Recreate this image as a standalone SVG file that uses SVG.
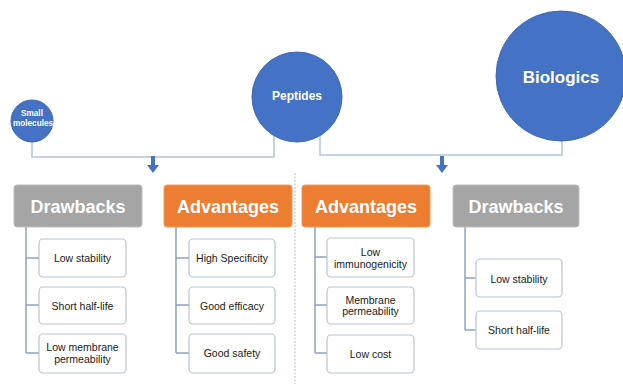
<svg xmlns="http://www.w3.org/2000/svg" width="623" height="384" viewBox="0 0 623 384">
<style>
.circ{fill:#4472c4;stroke:#3f68b4;stroke-width:1}
.ctxt{fill:#fff;font-family:"Liberation Sans",Arial,sans-serif;font-weight:bold;text-anchor:middle;dominant-baseline:central}
.link{fill:none;stroke:#b4c3d8;stroke-width:1.5}
.tree{fill:none;stroke:#8fa3bf;stroke-width:1.5}
.arrow{fill:#4472c4}
.hdrG{fill:#a5a5a5;stroke:#bdbdbd;stroke-width:1}
.hdrO{fill:#ed7d31;stroke:#f29a5c;stroke-width:1}
.htxt{fill:#fff;font-family:"Liberation Sans",Arial,sans-serif;font-weight:bold;font-size:18px;text-anchor:middle;dominant-baseline:central}
.box{fill:#fff;stroke:#b7c4d6;stroke-width:1.2}
.btxt{fill:#1a1a1a;font-family:"Liberation Sans",Arial,sans-serif;font-size:10.5px;text-anchor:middle;dominant-baseline:central}
</style>
<rect width="623" height="384" fill="#fff"/>
<g id="connectors">
<path class="link" d="M32 142 V157 H274 V136"/>
<path class="link" d="M320 134 V155 H562 V141"/>
<path class="arrow" d="M151 156 h4 v9 h4 l-6 8 l-6 -8 h4 z"/>
<path class="arrow" d="M440 156 h4 v9 h4 l-6 8 l-6 -8 h4 z"/>
<line x1="295" y1="173" x2="295" y2="384" stroke="#c3cad4" stroke-width="1.2" stroke-dasharray="2,1.5"/>
<path class="tree" d="M26 227 V353 M26 258 H39 M26 305 H39 M26 353 H39"/>
<path class="tree" d="M176 227 V353 M176 258 H189 M176 305 H189 M176 353 H189"/>
<path class="tree" d="M315 227 V353 M315 257 H327 M315 305 H327 M315 353 H327"/>
<path class="tree" d="M465 227 V330 M465 278 H476 M465 330 H476"/>
</g>
<g id="small-molecules">
<circle class="circ" cx="32" cy="121" r="21"/>
<text class="ctxt" x="32" y="113" font-size="8.2">Small</text>
<text class="ctxt" x="33" y="123.5" font-size="8.2">molecules</text>
</g>
<g id="peptides">
<circle class="circ" cx="297" cy="97" r="45"/>
<text class="ctxt" x="297" y="96" font-size="12">Peptides</text>
</g>
<g id="biologics">
<circle class="circ" cx="561" cy="76" r="65"/>
<text class="ctxt" x="561" y="77" font-size="17">Biologics</text>
</g>
<g id="drawbacks-left">
<rect class="hdrG" x="14" y="185" width="128" height="42" rx="3"/>
<text class="htxt" x="78" y="207">Drawbacks</text>
</g>
<g id="advantages-left">
<rect class="hdrO" x="164" y="185" width="128" height="42" rx="3"/>
<text class="htxt" x="228" y="207">Advantages</text>
</g>
<g id="advantages-right">
<rect class="hdrO" x="302" y="185" width="128" height="42" rx="3"/>
<text class="htxt" x="366" y="207">Advantages</text>
</g>
<g id="drawbacks-right">
<rect class="hdrG" x="453" y="185" width="126" height="42" rx="3"/>
<text class="htxt" x="516" y="207">Drawbacks</text>
</g>
<g id="dl1"><rect class="box" x="39" y="239" width="87" height="38" rx="4"/><text class="btxt" x="82.5" y="258">Low stability</text></g>
<g id="dl2"><rect class="box" x="39" y="287" width="87" height="37" rx="4"/><text class="btxt" x="82.5" y="305.5">Short half-life</text></g>
<g id="dl3"><rect class="box" x="39" y="334" width="87" height="39" rx="4"/><text class="btxt" x="82.5" y="347">Low membrane</text><text class="btxt" x="82.5" y="358.5">permeability</text></g>
<g id="al1"><rect class="box" x="189" y="239" width="86" height="38" rx="4"/><text class="btxt" x="232" y="258">High Specificity</text></g>
<g id="al2"><rect class="box" x="189" y="287" width="86" height="37" rx="4"/><text class="btxt" x="232" y="305.5">Good efficacy</text></g>
<g id="al3"><rect class="box" x="189" y="334" width="86" height="39" rx="4"/><text class="btxt" x="232" y="353">Good safety</text></g>
<g id="ar1"><rect class="box" x="327" y="238" width="87" height="39" rx="4"/><text class="btxt" x="370.5" y="252">Low</text><text class="btxt" x="370.5" y="263.5">immunogenicity</text></g>
<g id="ar2"><rect class="box" x="327" y="287" width="87" height="37" rx="4"/><text class="btxt" x="370.5" y="299.5">Membrane</text><text class="btxt" x="370.5" y="311">permeability</text></g>
<g id="ar3"><rect class="box" x="327" y="335" width="87" height="38" rx="4"/><text class="btxt" x="370.5" y="353.5">Low cost</text></g>
<g id="dr1"><rect class="box" x="476" y="259" width="86" height="38" rx="4"/><text class="btxt" x="519" y="278.5">Low stability</text></g>
<g id="dr2"><rect class="box" x="476" y="311" width="86" height="38" rx="4"/><text class="btxt" x="519" y="330">Short half-life</text></g>
</svg>
